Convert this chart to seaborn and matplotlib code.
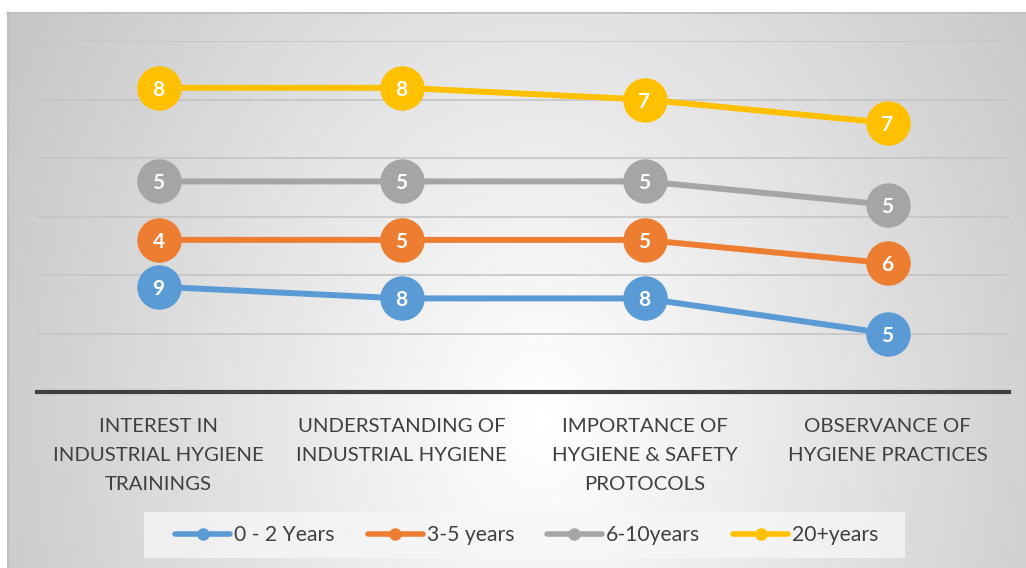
import numpy as np
import pandas as pd
import matplotlib
matplotlib.use("Agg")
import matplotlib.pyplot as plt
from matplotlib.lines import Line2D
from matplotlib.patches import Rectangle
import seaborn as sns

categories = [
    "INTEREST IN\nINDUSTRIAL HYGIENE\nTRAININGS",
    "UNDERSTANDING OF\nINDUSTRIAL HYGIENE",
    "IMPORTANCE OF\nHYGIENE & SAFETY\nPROTOCOLS",
    "OBSERVANCE OF\nHYGIENE PRACTICES",
]
series_names = ["0 - 2 Years", "3-5 years", "6-10years", "20+years"]
years_0_2 = [9, 8, 8, 5]
years_3_5 = [4, 5, 5, 6]
years_6_10 = [5, 5, 5, 5]
years_20_plus = [8, 8, 7, 7]
colors = ["#5B9BD5", "#ED7D31", "#A5A5A5", "#FFC000"]

sns.set_theme(style="white")
plt.rcParams["font.family"] = ["Lato", "DejaVu Sans"]

# stacked line chart: each series sits on top of the previous ones
values = np.array([years_0_2, years_3_5, years_6_10, years_20_plus], dtype=float)
stacked = np.cumsum(values, axis=0)
rows = []
for si, name in enumerate(series_names):
    for ci in range(len(categories)):
        rows.append({"pos": ci, "series": name, "value": values[si, ci], "stacked": stacked[si, ci]})
df = pd.DataFrame(rows)

W, H = 1026, 568
fig = plt.figure(figsize=(W / 100, H / 100), dpi=100)

# soft radial background panel
bg = fig.add_axes([0, 0, 1, 1], zorder=-10)
yy, xx = np.mgrid[0:H, 0:W]
d = np.sqrt(((xx - 540) / 600.0) ** 2 + ((yy - 420) / 780.0) ** 2)
g = np.clip(256 - 57 * d, 185, 255) / 255.0
img = np.dstack([g, g, g])
panel = (xx >= 7) & (yy >= 12)
img[~panel] = 1.0
bg.imshow(img, extent=[0, W, H, 0], aspect="auto", interpolation="bilinear")
bg.plot([7, W], [12.5, 12.5], color="#bdbdbd", lw=1.2)
bg.plot([7.5, 7.5], [12, H], color="#bdbdbd", lw=1.2)
# legend backdrop
bg.add_patch(Rectangle((144, 512), 761, 46, facecolor="#f7f7f7", alpha=0.75, edgecolor="none"))
bg.set_xlim(0, W)
bg.set_ylim(H, 0)
bg.axis("off")

ax = fig.add_axes([37 / W, 1 - 392 / H, (1009 - 37) / W, (392 - 41) / H])
ax.patch.set_alpha(0)

sns.lineplot(
    data=df, x="pos", y="stacked", hue="series", palette=colors,
    hue_order=series_names, linewidth=4.3, marker="o", markersize=32,
    markeredgewidth=0, legend=False, ax=ax, zorder=3,
)

for _, r in df.iterrows():
    ax.text(r["pos"], r["stacked"], f"{int(r['value'])}", color="white",
            fontsize=15, fontweight="bold", ha="center", va="center_baseline", zorder=5)

ax.set_xlim(-0.5, 3.5)
ax.set_ylim(0, 30)
ax.set_yticks([5, 10, 15, 20, 25, 30])
ax.yaxis.grid(True, color="#c4c4c4", lw=1.2)
ax.set_yticklabels([])
ax.tick_params(axis="y", length=0)
ax.set_xticks(range(len(categories)))
ax.set_xticklabels(categories, fontsize=14.7, color="#404040", linespacing=1.85)
ax.tick_params(axis="x", length=0, pad=19)
ax.set_xlabel("")
ax.set_ylabel("")
for s in ["top", "right", "left"]:
    ax.spines[s].set_visible(False)
ax.spines["bottom"].set_color("#404040")
ax.spines["bottom"].set_linewidth(3)

handles = [Line2D([0], [0], color=c, lw=4, marker="o", markersize=8) for c in colors]
leg = fig.legend(handles, series_names, loc="center", bbox_to_anchor=(527 / W, 1 - 535 / H),
                 ncol=4, fontsize=15.2, frameon=False, handlelength=2.6, handletextpad=0.2,
                 columnspacing=1.55)
for t in leg.get_texts():
    t.set_color("#404040")

fig.savefig("out.png", dpi=100)
